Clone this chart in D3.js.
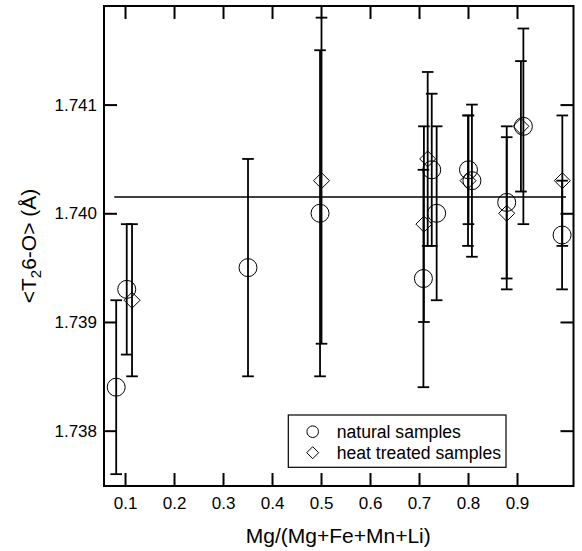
<!DOCTYPE html>
<html>
<head>
<meta charset="utf-8">
<script src="https://cdn.jsdelivr.net/npm/d3@7/dist/d3.min.js"></script>
<style>
  html, body { margin: 0; padding: 0; background: #fff; }
  svg { display: block; }
  text { font-family: Arial, "Liberation Sans", Helvetica, sans-serif; fill: #000; }
</style>
</head>
<body>
<svg id="chart" width="582" height="551"></svg>
<script>
// ---- data ----
const naturalX   = [0.082, 0.1035, 0.351, 0.498, 0.709, 0.726, 0.736, 0.801, 0.808, 0.879, 0.913, 0.992];
const naturalY   = [1.7384, 1.7393, 1.7395, 1.7400, 1.7394, 1.7404, 1.7400, 1.7404, 1.7403, 1.7401, 1.7408, 1.7398];
const naturalErr = [0.0008, 0.0006, 0.0010, 0.0015, 0.0010, 0.0007, 0.0008, 0.0005, 0.0007, 0.0007, 0.0009, 0.0005];

const heatX   = [0.1143, 0.501, 0.710, 0.7177, 0.800, 0.879, 0.908, 0.9925];
const heatY   = [1.7392, 1.7403, 1.7399, 1.7405, 1.7403, 1.7400, 1.7408, 1.7403];
const heatErr = [0.0007, 0.0015, 0.0009, 0.0008, 0.0006, 0.0007, 0.0006, 0.0006];

const meanValue = 1.74015;
const meanRange = [0.078, 1.0];

const xTicks = [0.1, 0.2, 0.3, 0.4, 0.5, 0.6, 0.7, 0.8, 0.9];
const yTicks = [1.738, 1.739, 1.740, 1.741];

const legendLabels = ["natural samples", "heat treated samples"];
const xLabel = "Mg/(Mg+Fe+Mn+Li)";

// ---- layout ----
const W = 582, H = 551;
const margin = { left: 104, right: 8.5, top: 6, bottom: 65 };
const svg = d3.select("#chart");

const x = d3.scaleLinear().domain([0.0571, 1.0153]).range([margin.left, W - margin.right]);
const y = d3.scaleLinear().domain([1.737491, 1.741907]).range([H - margin.bottom, margin.top]);

const tickLen = 13;
const fmtY = d3.format(".3f");
const fmtX = d3.format(".1f");

// axes (ticks inside)
const gBottom = svg.append("g").attr("transform", `translate(0,${y.range()[0]})`)
  .call(d3.axisBottom(x).tickValues(xTicks).tickSize(-tickLen).tickPadding(11).tickFormat(fmtX));
const gTop = svg.append("g").attr("transform", `translate(0,${y.range()[1]})`)
  .call(d3.axisTop(x).tickValues(xTicks).tickSize(-tickLen).tickFormat(""));
const gLeft = svg.append("g").attr("transform", `translate(${x.range()[0]},0)`)
  .call(d3.axisLeft(y).tickValues(yTicks).tickSize(-tickLen).tickPadding(7).tickFormat(fmtY));
const gRight = svg.append("g").attr("transform", `translate(${x.range()[1]},0)`)
  .call(d3.axisRight(y).tickValues(yTicks).tickSize(-tickLen).tickFormat(""));

[gBottom, gTop, gLeft, gRight].forEach(g => {
  g.select(".domain").remove();
  g.selectAll(".tick line").attr("stroke", "#000").attr("stroke-width", 2);
  g.selectAll(".tick text").style("font-size", "17px").attr("fill", "#000");
});

// frame
svg.append("rect")
  .attr("x", x.range()[0]).attr("y", y.range()[1])
  .attr("width", x.range()[1] - x.range()[0])
  .attr("height", y.range()[0] - y.range()[1])
  .attr("fill", "none").attr("stroke", "#000").attr("stroke-width", 2);

// mean line
svg.append("line")
  .attr("x1", x(meanRange[0])).attr("x2", x(meanRange[1]))
  .attr("y1", y(meanValue)).attr("y2", y(meanValue))
  .attr("stroke", "#000").attr("stroke-width", 1.5);

const natural = naturalX.map((v, i) => ({ x: v, y: naturalY[i], e: naturalErr[i] }));
const heat = heatX.map((v, i) => ({ x: v, y: heatY[i], e: heatErr[i] }));

const capHalf = 5.8;
function errorBars(data, cls) {
  const g = svg.append("g").attr("class", cls).attr("stroke", "#000").attr("stroke-width", 1.8);
  data.forEach(d => {
    g.append("line").attr("x1", x(d.x)).attr("x2", x(d.x)).attr("y1", y(d.y - d.e)).attr("y2", y(d.y + d.e));
    g.append("line").attr("x1", x(d.x) - capHalf).attr("x2", x(d.x) + capHalf).attr("y1", y(d.y + d.e)).attr("y2", y(d.y + d.e));
    g.append("line").attr("x1", x(d.x) - capHalf).attr("x2", x(d.x) + capHalf).attr("y1", y(d.y - d.e)).attr("y2", y(d.y - d.e));
  });
}
errorBars(natural, "err-nat");
errorBars(heat, "err-heat");

const diamond = s => `M0,${-s}L${s},0L0,${s}L${-s},0Z`;

svg.append("g").selectAll("circle").data(natural).join("circle")
  .attr("cx", d => x(d.x)).attr("cy", d => y(d.y)).attr("r", 9)
  .attr("fill", "none").attr("stroke", "#000").attr("stroke-width", 1);

svg.append("g").selectAll("path").data(heat).join("path")
  .attr("transform", d => `translate(${x(d.x)},${y(d.y)})`)
  .attr("d", diamond(8))
  .attr("fill", "none").attr("stroke", "#000").attr("stroke-width", 1);

// legend
const lg = svg.append("g");
lg.append("rect").attr("x", 288.3).attr("y", 415).attr("width", 217.7).attr("height", 52.3)
  .attr("fill", "#fff").attr("stroke", "#000").attr("stroke-width", 1.2);
lg.append("circle").attr("cx", 312.7).attr("cy", 431.7).attr("r", 5.8)
  .attr("fill", "none").attr("stroke", "#000").attr("stroke-width", 1);
lg.append("path").attr("transform", "translate(312.7,452.7)").attr("d", diamond(6))
  .attr("fill", "none").attr("stroke", "#000").attr("stroke-width", 1);
lg.append("text").attr("x", 336.7).attr("y", 431.7).attr("dy", "0.35em").style("font-size", "17.6px").text(legendLabels[0]);
lg.append("text").attr("x", 336.7).attr("y", 452.7).attr("dy", "0.35em").style("font-size", "17.6px").text(legendLabels[1]);

// axis labels
svg.append("text").attr("x", (x.range()[0] + x.range()[1]) / 2 - 0.5).attr("y", 543)
  .attr("text-anchor", "middle").style("font-size", "21px").text(xLabel);

const yl = svg.append("text")
  .attr("transform", `translate(36,${(y.range()[0] + y.range()[1]) / 2}) rotate(-90)`)
  .attr("text-anchor", "middle").style("font-size", "21px");
yl.append("tspan").text("<T");
yl.append("tspan").attr("dy", 5).style("font-size", "15px").text("2");
yl.append("tspan").attr("dy", -5).text("6-O> (Å)");
</script>
</body>
</html>
